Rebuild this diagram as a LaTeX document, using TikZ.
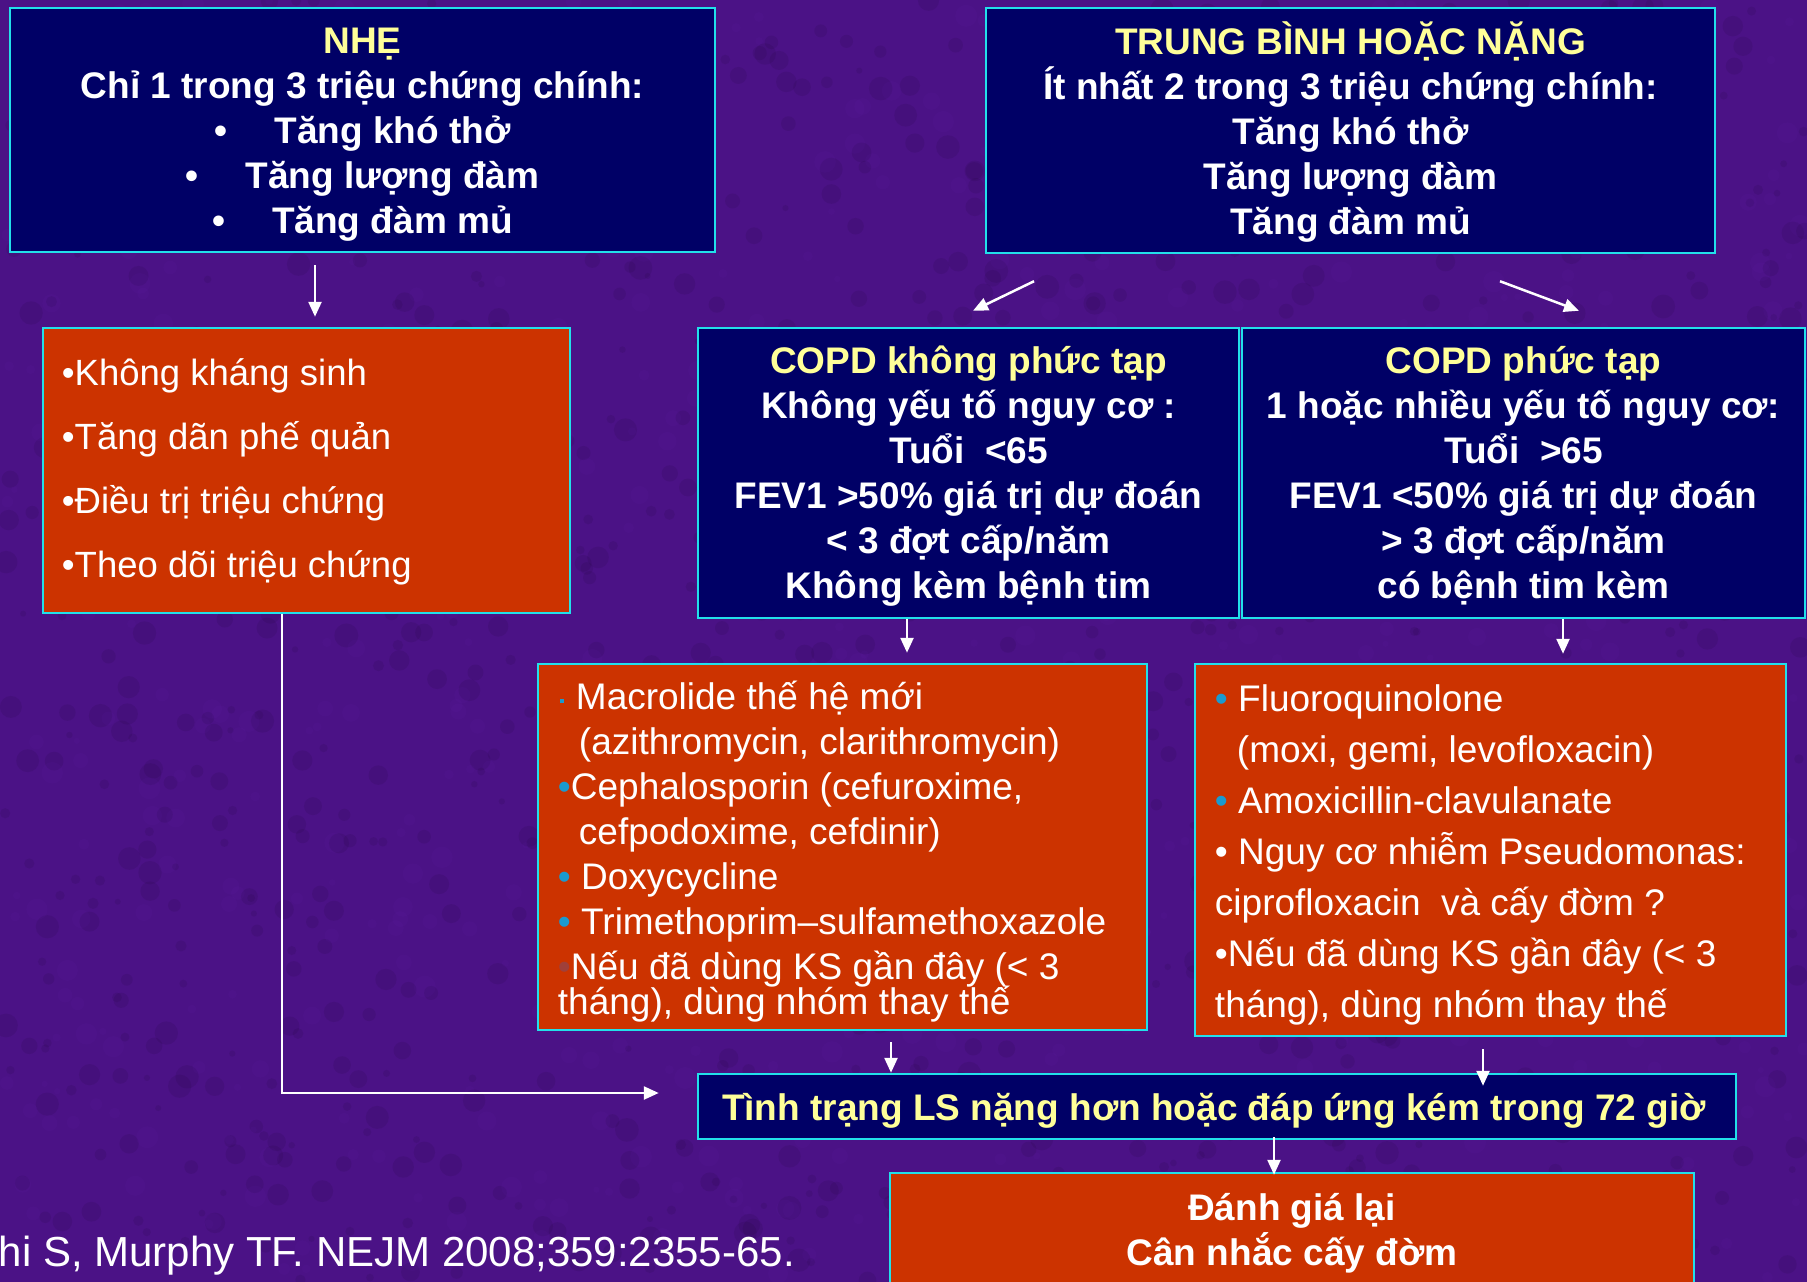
\documentclass[tikz,border=0pt]{standalone}
\usepackage{fontspec}
\setmainfont{Liberation Sans}
\usetikzlibrary{arrows.meta,calc}

\definecolor{bgpurple}{HTML}{4B1286}
\definecolor{bglight}{HTML}{6A2AB8}
\definecolor{navy}{HTML}{000066}
\definecolor{rust}{HTML}{CC3300}
\definecolor{edge}{HTML}{22E0EA}
\definecolor{titleyellow}{HTML}{FFFF99}
\definecolor{bulletblue}{HTML}{1A9AD0}
\definecolor{bulletdim}{HTML}{A0403A}

\newcommand{\bb}{{\color{bulletblue}•}}

\begin{document}
\begin{tikzpicture}[x=1pt,y=-1pt,
  box/.style={draw=edge, line width=2.5pt, inner sep=0pt},
  bluebox/.style={box, fill=navy},
  redbox/.style={box, fill=rust},
  boldtxt/.style={text=white, inner sep=0pt, align=center,
                  font=\fontsize{37}{45}\selectfont\bfseries},
  listtxt/.style={text=white, inner sep=0pt, align=left, anchor=west},
  arr/.style={draw=white, line width=2.5pt, -{Triangle[length=15pt,width=13pt]}},
]
% background with a fine mottled texture
\useasboundingbox (0,0) rectangle (1807,1282);
\fill[bgpurple] (0,0) rectangle (1807,1282);
\pgfmathsetseed{4242}
\foreach \k in {1,...,1100}{
  \pgfmathsetmacro{\px}{rnd*1807}
  \pgfmathsetmacro{\py}{rnd*1282}
  \pgfmathsetmacro{\pr}{3+rnd*9}
  \fill[black, opacity=0.07] (\px,\py) circle[radius=\pr];
}
\foreach \k in {1,...,700}{
  \pgfmathsetmacro{\px}{rnd*1807}
  \pgfmathsetmacro{\py}{rnd*1282}
  \pgfmathsetmacro{\pr}{3+rnd*8}
  \fill[bglight, opacity=0.07] (\px,\py) circle[radius=\pr];
}

% severity boxes
\node[bluebox, minimum width=705pt, minimum height=244pt] (nhe) at (362.5,130) {};
\node[boldtxt] (nhetxt) at ($(nhe)+(0,4.6)$)
  {{\color{titleyellow}NHẸ}\\
   Chỉ 1 trong 3 triệu chứng chính:\\
   •\hspace{47pt}Tăng khó thở\\
   •\hspace{47pt}Tăng lượng đàm\\
   •\hspace{47pt}Tăng đàm mủ};

\node[bluebox, minimum width=729pt, minimum height=245pt] (tb) at (1350.5,130.5) {};
\node[boldtxt] (tbtxt) at ($(tb)+(0,2)$)
  {{\color{titleyellow}TRUNG BÌNH HOẶC NẶNG}\\
   Ít nhất 2 trong 3 triệu chứng chính:\\
   Tăng khó thở\\
   Tăng lượng đàm\\
   Tăng đàm mủ};

% mild: management
\node[redbox, minimum width=527pt, minimum height=285pt] (mild) at (306.5,470.5) {};
\node[listtxt, font=\fontsize{36.5}{64}\selectfont] (mildtxt) at ($(mild.west)+(20,1.5)$)
  {•Không kháng sinh\\
   •Tăng dãn phế quản\\
   •Điều trị triệu chứng\\
   •Theo dõi triệu chứng};

% COPD categories
\node[bluebox, minimum width=541pt, minimum height=290pt] (copda) at (968.5,473) {};
\node[boldtxt] (copdatxt) at ($(copda)+(0,3)$)
  {{\color{titleyellow}COPD không phức tạp}\\
   Không yếu tố nguy cơ :\\
   Tuổi~~<65\\
   FEV1 >50\% giá trị dự đoán\\
   < 3 đợt cấp/năm\\
   Không kèm bệnh tim};

\node[bluebox, minimum width=563pt, minimum height=290pt] (copdb) at (1523.5,473) {};
\node[boldtxt] (copdbtxt) at ($(copdb)+(0,3)$)
  {{\color{titleyellow}COPD phức tạp}\\
   1 hoặc nhiều yếu tố nguy cơ:\\
   Tuổi~~>65\\
   FEV1 <50\% giá trị dự đoán\\
   > 3 đợt cấp/năm\\
   có bệnh tim kèm};

% antibiotic choices
\node[redbox, minimum width=609pt, minimum height=366pt] (abxa) at (842.5,847) {};
\node[listtxt, font=\fontsize{37}{45}\selectfont] (abxatxt) at ($(abxa.west)+(21,5)$)
  {\hspace{2pt}\raisebox{7pt}{\color{bulletblue}\rule{4pt}{4pt}}\hspace{12pt}Macrolide thế hệ mới\\
   \hspace{21pt}(azithromycin, clarithromycin)\\
   \bb Cephalosporin (cefuroxime,\\
   \hspace{21pt}cefpodoxime, cefdinir)\\
   \bb{} Doxycycline\\
   \bb{} Trimethoprim–sulfamethoxazole\\
   {\color{bulletdim}•}Nếu đã dùng KS gần đây (< 3\\[-10pt]
   tháng), dùng nhóm thay thế};

\node[redbox, minimum width=591pt, minimum height=372pt] (abxb) at (1490.5,850) {};
\node[listtxt, font=\fontsize{37}{51}\selectfont] (abxbtxt) at ($(abxb.west)+(21,4.6)$)
  {\bb{} Fluoroquinolone\\
   \hspace{22pt}(moxi, gemi, levofloxacin)\\
   \bb{} Amoxicillin-clavulanate\\
   • Nguy cơ nhiễm Pseudomonas:\\
   ciprofloxacin~~và cấy đờm ?\\
   •Nếu đã dùng KS gần đây (< 3\\
   tháng), dùng nhóm thay thế};

% outcome
\node[bluebox, minimum width=1038pt, minimum height=65pt] (worse) at (1217,1106.5) {};
\node[boldtxt, text=titleyellow] (worsetxt) at ($(worse)+(-3,4.6)$)
  {Tình trạng LS nặng hơn hoặc đáp ứng kém trong 72 giờ};

\node[redbox, minimum width=804pt, minimum height=113pt] (reeval) at (1292,1229.5) {};
\node[boldtxt] (reevaltxt) at ($(reeval)+(0,3.5)$)
  {Đánh giá lại\\Cân nhắc cấy đờm};

% reference
\node[anchor=east, inner sep=0pt, text=white, font=\fontsize{42}{50}\selectfont]
  (cite) at (795,1255.5) {hi S, Murphy TF. NEJM 2008;359:2355-65.};

% connectors
\draw[arr] ($(nhe.south)+(-47.5,12)$) -- ($(mild.north)+(8.5,-10)$);
\draw[arr] ($(tb.south)+(-316.5,27)$) -- ($(copda.north)+(4.5,-16)$);
\draw[arr] ($(tb.south)+(149.5,27)$) -- ($(copdb.north)+(55.5,-16)$);
\draw[arr] ($(copda.south)+(-61.5,0)$) -- ($(abxa.north)+(64.5,-10)$);
\draw[arr] ($(copdb.south)+(39.5,0)$) -- ($(abxb.north)+(72.5,-9)$);
\draw[arr] ($(abxa.south)+(48.5,11)$) -- ($(worse.north)+(-326,0)$);
\draw[arr] ($(abxb.south)+(-7.5,12)$) -- ($(worse.north)+(266,13)$);
\draw[arr] ($(mild.south)+(-24.5,0)$) |- ($(worse.west)+(-38,-13.5)$);
\draw[arr] ($(worse.south)+(57,-3)$) -- ($(reeval.north)+(-18,3)$);
\end{tikzpicture}
\end{document}
